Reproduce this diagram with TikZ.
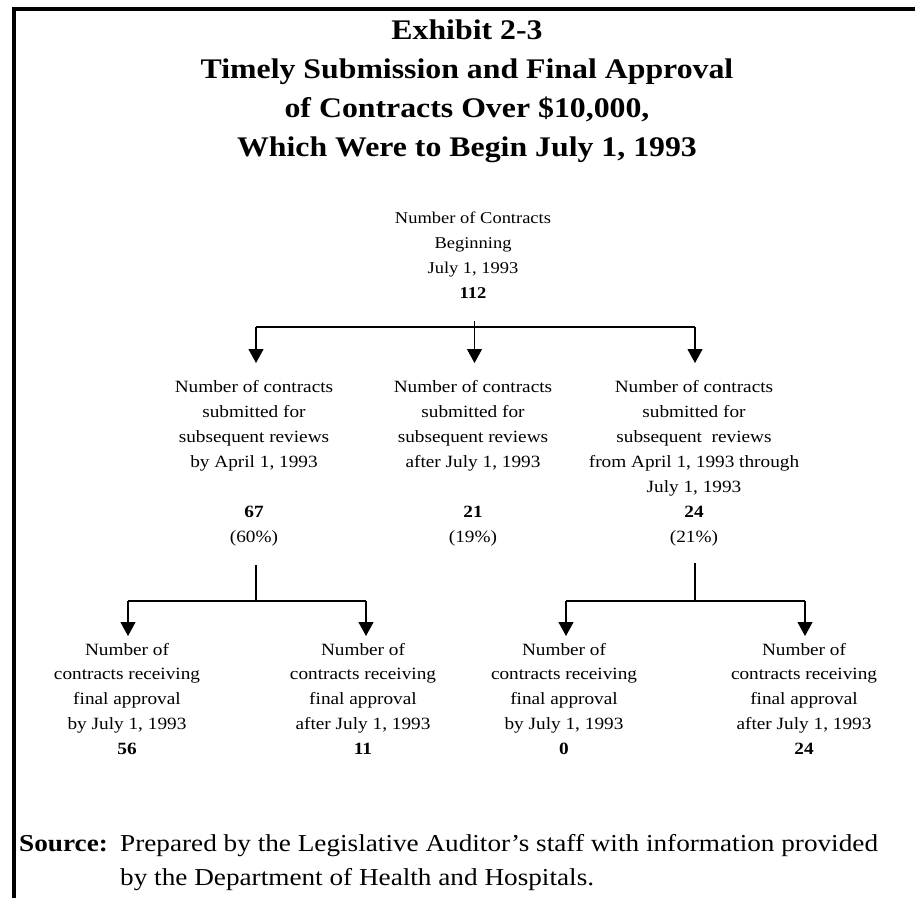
\documentclass[tikz,border=0pt]{standalone}
\usepackage{fontspec}
\setmainfont[FakeStretch=1.12]{Liberation Serif}
\usetikzlibrary{arrows.meta}
\begin{document}
\begin{tikzpicture}[x=1pt,y=-1pt,
  txt/.style={align=center, anchor=base, inner sep=0pt, font=\fontsize{17.2}{25}\selectfont},
  lowtxt/.style={align=center, anchor=base, inner sep=0pt, font=\fontsize{17.2}{24.75}\selectfont},
  titletxt/.style={align=center, anchor=base, inner sep=0pt, font=\bfseries\fontsize{28.4}{38.8}\selectfont},
  srctxt/.style={anchor=base west, inner sep=0pt, align=left, font=\fontsize{24.3}{33.3}\selectfont},
  link/.style={line width=1.1pt},
  arr/.style={line width=1.1pt, -{Triangle[width=15pt,length=14pt]}},
  frame/.style={line width=3.5pt}]
\useasboundingbox (0,0) rectangle (915,898);
% frame
\draw[frame] (915,9) -- (14,9) -- (14,898);
% title (anchor base = baseline of last line)
\node[titletxt] (title) at (467,156) {Exhibit 2-3\\Timely Submission and Final Approval\\of Contracts Over \$10,000,\\Which Were to Begin July 1, 1993};
% top node
\node[txt, font=\fontsize{16.5}{25}\selectfont] (top) at (473,298) {Number of Contracts\\Beginning\\July 1, 1993\\\textbf{112}};
% middle row
\node[txt] (m1) at (254,542) {Number of contracts\\submitted for\\subsequent reviews\\by April 1, 1993\\[25pt]\textbf{67}\\(60\%)};
\node[txt] (m2) at (473,542) {Number of contracts\\submitted for\\subsequent reviews\\after July 1, 1993\\[25pt]\textbf{21}\\(19\%)};
\node[txt] (m3) at (694,542) {Number of contracts\\submitted for\\subsequent\ \ reviews\\from April 1, 1993 through\\July 1, 1993\\\textbf{24}\\(21\%)};
% bottom row
\node[lowtxt] (b1) at (127,754) {Number of\\contracts receiving\\final approval\\by July 1, 1993\\\textbf{56}};
\node[lowtxt] (b2) at (363,754) {Number of\\contracts receiving\\final approval\\after July 1, 1993\\\textbf{11}};
\node[lowtxt] (b3) at (564,754) {Number of\\contracts receiving\\final approval\\by July 1, 1993\\\textbf{0}};
\node[lowtxt] (b4) at (804,754) {Number of\\contracts receiving\\final approval\\after July 1, 1993\\\textbf{24}};
% source
\node[srctxt, font=\bfseries\fontsize{24.3}{33.3}\selectfont] (srclabel) at (19,851.7) {Source:};
\node[srctxt] (srctext) at (120,885) {Prepared by the Legislative Auditor's staff with information provided\\by the Department of Health and Hospitals.};
% top connectors
\coordinate (t0) at (474.5,321);
\coordinate (j0) at (474.5,327);
\coordinate (aL) at (256,327);
\coordinate (aR) at (695,327);
\coordinate (tipL) at (256,363);
\coordinate (tipM) at (474.5,363);
\coordinate (tipR) at (695,363);
\draw[link] (t0) -- (j0);
\draw[link] (aL) -- (aR);
\draw[arr] (aL) -- (tipL);
\draw[arr] (j0) -- (tipM);
\draw[arr] (aR) -- (tipR);
% lower left connectors
\coordinate (s1) at (256,565);
\coordinate (j1) at (256,601);
\coordinate (c1L) at (128,601);
\coordinate (c1R) at (366,601);
\coordinate (tip1L) at (128,636);
\coordinate (tip1R) at (366,636);
\draw[link] (s1) -- (j1);
\draw[link] (c1L) -- (c1R);
\draw[arr] (c1L) -- (tip1L);
\draw[arr] (c1R) -- (tip1R);
% lower right connectors
\coordinate (s2) at (695,563);
\coordinate (j2) at (695,601);
\coordinate (c2L) at (566,601);
\coordinate (c2R) at (805,601);
\coordinate (tip2L) at (566,636);
\coordinate (tip2R) at (805,636);
\draw[link] (s2) -- (j2);
\draw[link] (c2L) -- (c2R);
\draw[arr] (c2L) -- (tip2L);
\draw[arr] (c2R) -- (tip2R);
\end{tikzpicture}
\end{document}
